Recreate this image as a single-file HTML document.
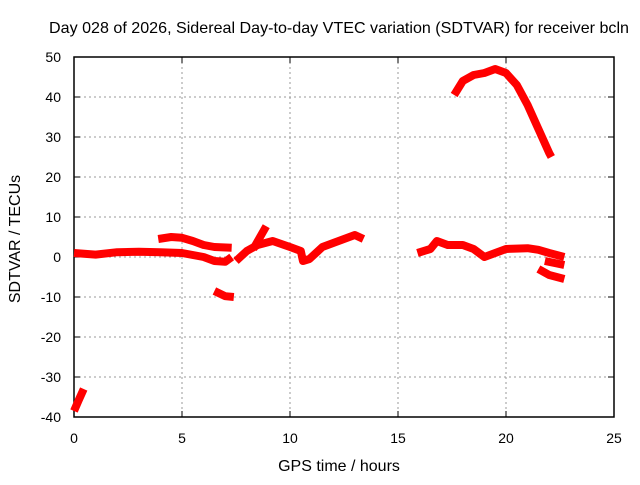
<!DOCTYPE html>
<html><head><meta charset="utf-8"><style>
body{margin:0;background:#fff;}
svg text{font-family:"Liberation Sans",sans-serif;font-size:14px;fill:#000;}
</style></head><body>
<svg id="chart" width="640" height="480" viewBox="0 0 640 480" xmlns="http://www.w3.org/2000/svg">
<rect width="640" height="480" fill="#fff"/>
<text x="49" y="33" textLength="580" lengthAdjust="spacingAndGlyphs" style="font-size:16px">Day 028 of 2026, Sidereal Day-to-day VTEC variation (SDTVAR) for receiver bcln</text>
<g id="grid"></g><g id="axes"></g><g id="series"></g>
<text x="339" y="471" text-anchor="middle" style="font-size:16px">GPS time / hours</text>
<text transform="translate(20,239) rotate(-90)" text-anchor="middle" style="font-size:16px">SDTVAR / TECUs</text>
</svg>
<script>
const xTicks=[0,5,10,15,20,25];
const yTicks=[-40,-30,-20,-10,0,10,20,30,40,50];
const segHours=[
 [0,1,2,3,4,5,6,6.5,7,7.3],
 [3.9,4.5,5,5.5,6,6.5,7.3],
 [6.5,7,7.4],
 [7.5,8,8.5,9.2,10,10.5,10.6,10.9,11.5,12,12.5,13,13.4],
 [8.3,8.9],
 [15.9,16.5,16.8,17.3,18,18.5,19,19.5,20,21,21.5,22,22.7],
 [21.8,22.7],
 [21.5,22,22.7],
 [17.6,18,18.5,19,19.5,20,20.5,21,21.5,22,22.1],
 [0,0.2,0.45]
];
const segValues=[
 [1,0.6,1.2,1.3,1.2,1,0,-1,-1.2,0],
 [4.5,5,4.8,4,3,2.5,2.3],
 [-8.5,-9.8,-10],
 [-1,1.5,3,4,2.5,1.5,-1,-0.5,2.5,3.5,4.5,5.5,4.5],
 [2,7.7],
 [1,2,4,3,3,2,0,1,2,2.2,1.8,1,0],
 [-1,-2],
 [-3,-4.5,-5.5],
 [40.5,44,45.5,46,47,46,43,38,32,26,25],
 [-38.5,-36,-33]
];
const X=h=>74+h*21.6, Y=v=>257-v*4;
const NS="http://www.w3.org/2000/svg";
const mk=(t,a,p)=>{const e=document.createElementNS(NS,t);for(const k in a)e.setAttribute(k,a[k]);p.appendChild(e);return e;};
const grid=document.getElementById('grid'),axes=document.getElementById('axes'),ser=document.getElementById('series');
xTicks.forEach(t=>{
 if(t>0&&t<25){const l=mk('line',{x1:X(t),x2:X(t),y1:57,y2:417,stroke:'#999','stroke-dasharray':'2,3'},grid);
 
 }
 const tx=mk('text',{x:X(t),y:443,'text-anchor':'middle'},axes);tx.textContent=t;
 
 
 mk('line',{x1:X(t),x2:X(t),y1:417,y2:411,stroke:'#000'},axes);
 mk('line',{x1:X(t),x2:X(t),y1:57,y2:63,stroke:'#000'},axes);
});
yTicks.forEach(t=>{
 if(t>-40&&t<50){const l=mk('line',{x1:74,x2:614,y1:Y(t),y2:Y(t),stroke:'#999','stroke-dasharray':'2,3'},grid);
 
 }
 const tx=mk('text',{x:61,y:Y(t)+5,'text-anchor':'end'},axes);tx.textContent=t;
 
 
 mk('line',{x1:74,x2:80,y1:Y(t),y2:Y(t),stroke:'#000'},axes);
 mk('line',{x1:614,x2:608,y1:Y(t),y2:Y(t),stroke:'#000'},axes);
});
const fr=mk('rect',{x:74,y:57,width:540,height:360,fill:'none',stroke:'#000','stroke-width':1.5},axes);


segHours.forEach((hs,i)=>{
 const pts=hs.map((h,j)=>X(h)+','+Y(segValues[i][j])).join(' ');
 const p=mk('polyline',{points:pts,fill:'none',stroke:'#f00','stroke-width':8,'stroke-linejoin':'round'},ser);
 
 
});
</script>
</body></html>
